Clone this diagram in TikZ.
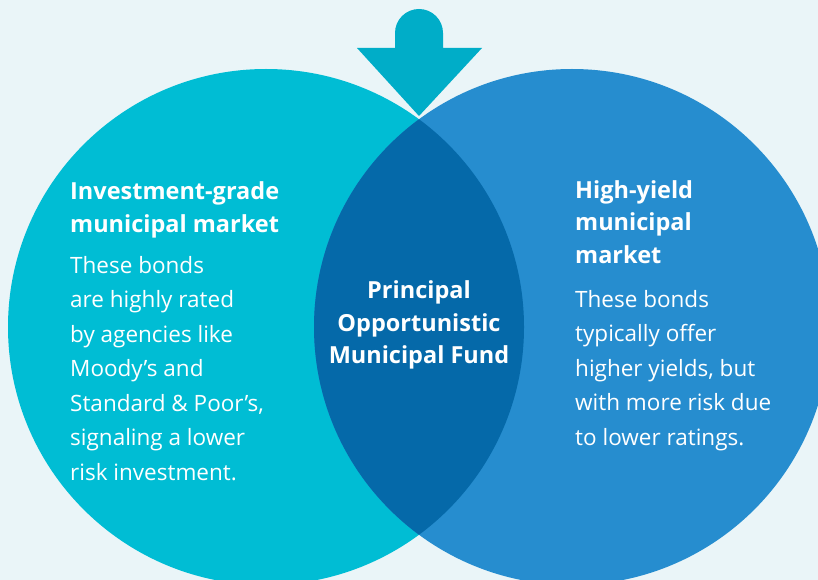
\documentclass[tikz,border=0pt]{standalone}
\usepackage{fontspec}
\setmainfont{Open Sans}

\definecolor{paleback}{HTML}{EAF5F8}
\definecolor{igcyan}{HTML}{00BDD4}
\definecolor{hyblue}{HTML}{268DCF}
\definecolor{fundblue}{HTML}{0569A9}
\definecolor{arrowcyan}{HTML}{00ADC8}

\tikzset{
  heading/.style={anchor=base west, inner sep=0pt, align=left, text=white,
    font=\bfseries\fontsize{23.5}{32.5}\selectfont},
  bodytext/.style={anchor=base west, inner sep=0pt, align=left, text=white,
    font=\fontsize{22.5}{34.5}\selectfont},
  fundtext/.style={anchor=base, inner sep=0pt, align=center, text=white,
    font=\bfseries\fontsize{23.5}{32.3}\selectfont},
}

\begin{document}
\begin{tikzpicture}[x=1pt, y=-1pt]
    \fill[paleback] (0,0) rectangle (818,580);
    \useasboundingbox (0,0) rectangle (818,580);

    \fill[igcyan] (266,327) circle[radius=258pt];
    \fill[hyblue] (572,327) circle[radius=258pt];
    \begin{scope}
        \clip (266,327) circle[radius=258pt];
        \fill[fundblue] (572,327) circle[radius=258pt];
    \end{scope}

    \fill[arrowcyan] (395,48) -- (395,33) arc[start angle=180, end angle=0, radius=24pt]
        -- (443,48) -- (482,48) -- (419,116) -- (357,48) -- cycle;

    % multi-line nodes sit on the baseline of their last line
    \node[heading] (lefthead) at (70,232) {Investment-grade\\municipal market};
    \node[bodytext] (leftbody) at (70,480) {These bonds\\are highly rated\\by agencies like\\Moody’s and\\Standard \& Poor’s,\\signaling a lower\\risk investment.};

    \node[fundtext] (fund) at (419,363.5) {Principal\\Opportunistic\\Municipal Fund};

    \node[heading] (righthead) at (575,263) {High-yield\\municipal\\market};
    \node[bodytext] (rightbody) at (575,445) {These bonds\\typically offer\\higher yields, but\\with more risk due\\to lower ratings.};
\end{tikzpicture}
\end{document}
